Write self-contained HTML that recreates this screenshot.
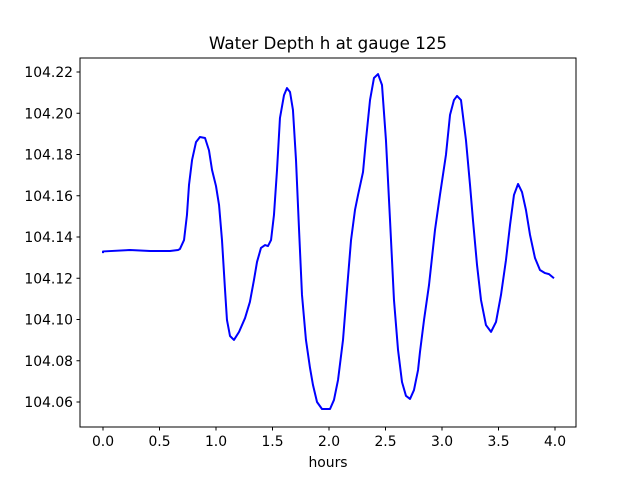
<!DOCTYPE html>
<html><head><meta charset="utf-8"><style>body{margin:0;background:#fff}svg{display:block;font-family:"DejaVu Sans","Liberation Sans",sans-serif}</style></head>
<body>
<svg id="chart" width="640" height="480">
<rect width="640" height="480" fill="#fff"/>
<text x="328" y="49" text-anchor="middle" font-size="16.7">Water Depth h at gauge 125</text>
<g id="xticks"></g><g id="yticks"></g>
<polyline id="line" fill="none" stroke="#0000ff" stroke-width="2" stroke-linejoin="round"/>
<rect x="80" y="58" width="496" height="369" fill="none" stroke="#000" stroke-width="1"/>
<text x="328" y="467" text-anchor="middle" font-size="13.9">hours</text>
</svg>
<script>
const hours=[0,0,0.239,0.416,0.593,0.664,0.681,0.717,0.743,0.761,0.788,0.823,0.858,0.903,0.938,0.965,1.0,1.027,1.053,1.08,1.097,1.124,1.159,1.204,1.257,1.3,1.336,1.363,1.398,1.434,1.46,1.487,1.513,1.54,1.566,1.602,1.628,1.655,1.681,1.708,1.735,1.761,1.796,1.832,1.858,1.894,1.938,2.009,2.044,2.08,2.124,2.159,2.195,2.23,2.257,2.301,2.327,2.363,2.398,2.434,2.469,2.504,2.54,2.575,2.611,2.646,2.681,2.717,2.752,2.788,2.805,2.841,2.885,2.938,2.982,3.035,3.071,3.106,3.133,3.168,3.212,3.248,3.274,3.31,3.345,3.389,3.434,3.478,3.522,3.566,3.602,3.637,3.673,3.708,3.743,3.779,3.823,3.867,3.912,3.947,3.991];
const depth=[104.1322,104.133,104.1337,104.1332,104.1332,104.1337,104.1342,104.1385,104.1507,104.1652,104.1773,104.186,104.1885,104.188,104.182,104.1725,104.1647,104.1555,104.1385,104.1143,104.0998,104.092,104.0901,104.094,104.1007,104.1085,104.1192,104.1279,104.1347,104.1361,104.1356,104.1385,104.1507,104.1725,104.1977,104.2088,104.2122,104.2103,104.2016,104.1773,104.1434,104.1119,104.0901,104.0765,104.0683,104.06,104.0566,104.0566,104.061,104.0707,104.0901,104.1143,104.1385,104.1531,104.1604,104.1715,104.187,104.2064,104.2171,104.219,104.2137,104.187,104.1482,104.1095,104.0852,104.0697,104.063,104.0615,104.0658,104.0755,104.0842,104.0998,104.1167,104.1434,104.1604,104.1798,104.1992,104.2064,104.2084,104.2064,104.187,104.1652,104.1482,104.1264,104.1095,104.0973,104.094,104.0988,104.1119,104.1288,104.1458,104.1604,104.1657,104.1618,104.1531,104.141,104.1298,104.124,104.1225,104.122,104.12];
const xTicks=[0,0.5,1,1.5,2,2.5,3,3.5,4];
const xLabels=["0.0","0.5","1.0","1.5","2.0","2.5","3.0","3.5","4.0"];
const yTicks=[104.06,104.08,104.10,104.12,104.14,104.16,104.18,104.20,104.22];
const yLabels=["104.06","104.08","104.10","104.12","104.14","104.16","104.18","104.20","104.22"];
const X=h=>103+h*113;
const Y=v=>72+(104.22-v)*2062.5;
const NS="http://www.w3.org/2000/svg";
const xg=document.getElementById('xticks'),yg=document.getElementById('yticks');
xTicks.forEach((t,i)=>{
 const l=document.createElementNS(NS,'line');
 l.setAttribute('x1',X(t));l.setAttribute('x2',X(t));l.setAttribute('y1',427);l.setAttribute('y2',430.5);l.setAttribute('stroke','#000');
 
 
 xg.appendChild(l);
 const s=document.createElementNS(NS,'text');
 s.setAttribute('x',X(t));s.setAttribute('y',446);s.setAttribute('text-anchor','middle');s.setAttribute('font-size','13.9');
 s.textContent=xLabels[i];
 
 
 xg.appendChild(s);
});
yTicks.forEach((t,i)=>{
 const l=document.createElementNS(NS,'line');
 l.setAttribute('x1',76.5);l.setAttribute('x2',80);l.setAttribute('y1',Y(t));l.setAttribute('y2',Y(t));l.setAttribute('stroke','#000');
 
 
 yg.appendChild(l);
 const s=document.createElementNS(NS,'text');
 s.setAttribute('x',73);s.setAttribute('y',Y(t)+5);s.setAttribute('text-anchor','end');s.setAttribute('font-size','13.9');
 s.textContent=yLabels[i];
 
 
 yg.appendChild(s);
});
document.getElementById('line').setAttribute('points',hours.map((h,i)=>X(h)+','+Y(depth[i])).join(' '));
</script>
</body></html>
